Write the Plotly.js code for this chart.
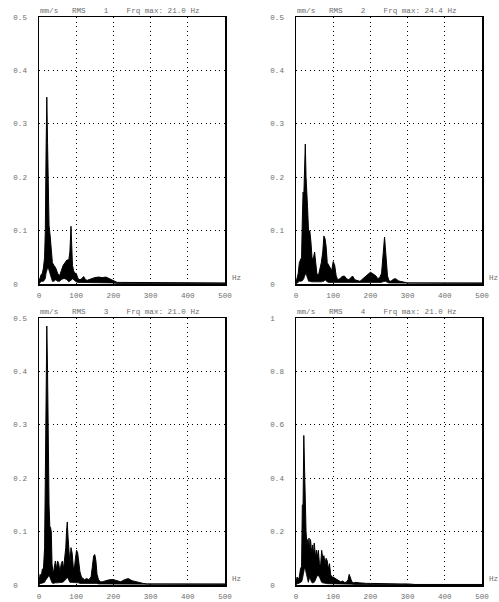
<!DOCTYPE html>
<html>
<head>
<meta charset="utf-8">
<script src="https://cdn.plot.ly/plotly-3.0.1.min.js"></script>
<style>html,body{margin:0;padding:0;background:#fff;}#chart{width:499px;height:602px;}</style>
</head>
<body>
<div id="chart"></div>
<script>
// ---- Data (Hz, mm/s RMS envelopes) ----
const freq1 = [0,3,6,9,12,15,17,19,21,23,25,27,30,33,36,40,45,50,55,60,65,70,75,80,83,86,88,90,93,96,100,105,110,115,120,125,130,140,150,160,170,180,190,200,210,220,240,260,300,350,400,450,500];
const upper1 = [0.005,0.012,0.018,0.02,0.03,0.05,0.1,0.25,0.35,0.265,0.12,0.11,0.09,0.06,0.04,0.035,0.03,0.02,0.015,0.025,0.035,0.04,0.045,0.045,0.06,0.108,0.07,0.035,0.025,0.02,0.02,0.01,0.008,0.01,0.014,0.008,0.007,0.01,0.012,0.013,0.012,0.013,0.01,0.006,0.003,0.003,0.003,0.002,0.002,0.002,0.002,0.002,0.002];
const lower1 = [0,0.002,0.005,0.005,0.005,0.008,0.01,0.02,0.03,0.03,0.03,0.025,0.02,0.01,0.005,0.005,0.008,0.005,0.005,0.008,0.01,0.01,0.008,0.004,0.005,0.006,0.008,0.01,0.008,0.005,0.004,0.003,0.003,0.003,0.003,0.003,0.003,0.003,0.003,0.003,0.003,0.003,0.003,0.002,0.001,0.001,0.001,0.001,0.001,0.001,0.001,0.001,0.001];

const freq2 = [0,3,6,9,12,15,17,19,21,23,25,27,29,31,34,37,40,43,46,50,53,56,60,64,68,72,75,78,81,84,88,92,96,100,104,108,112,118,124,130,136,142,148,152,158,165,172,180,188,195,200,205,210,215,220,225,230,233,236,238,240,243,246,250,255,260,265,270,275,280,290,300,350,400,450,500];
const upper2 = [0.003,0.01,0.02,0.04,0.045,0.05,0.12,0.172,0.165,0.2,0.262,0.2,0.15,0.145,0.095,0.1,0.08,0.05,0.045,0.06,0.04,0.02,0.015,0.025,0.04,0.06,0.09,0.085,0.07,0.04,0.035,0.03,0.025,0.042,0.035,0.015,0.008,0.01,0.014,0.015,0.01,0.008,0.012,0.015,0.008,0.006,0.005,0.01,0.015,0.02,0.022,0.02,0.018,0.015,0.01,0.012,0.02,0.045,0.07,0.088,0.07,0.035,0.015,0.006,0.005,0.008,0.01,0.009,0.006,0.005,0.003,0.002,0.002,0.002,0.002,0.002];
const lower2 = [0,0.002,0.003,0.005,0.005,0.005,0.006,0.008,0.01,0.015,0.02,0.02,0.015,0.01,0.005,0.005,0.004,0.004,0.004,0.004,0.004,0.003,0.003,0.004,0.004,0.005,0.005,0.008,0.005,0.004,0.003,0.003,0.003,0.003,0.003,0.003,0.002,0.002,0.002,0.002,0.002,0.002,0.002,0.002,0.002,0.002,0.002,0.002,0.002,0.003,0.003,0.003,0.003,0.003,0.003,0.003,0.003,0.004,0.005,0.005,0.005,0.004,0.003,0.002,0.002,0.002,0.002,0.002,0.002,0.002,0.001,0.001,0.001,0.001,0.001,0.001];

const freq3 = [0,3,6,9,12,15,17,19,21,23,25,27,29,31,33,35,38,41,44,47,50,53,56,60,63,66,69,72,74,76,78,80,83,86,89,92,95,98,101,104,107,110,114,118,122,128,134,140,144,147,150,153,156,160,165,170,180,190,200,210,220,230,240,250,260,270,280,290,300,350,400,450,500];
const upper3 = [0.005,0.02,0.015,0.03,0.03,0.07,0.2,0.3,0.485,0.4,0.25,0.15,0.11,0.108,0.1,0.04,0.02,0.035,0.045,0.03,0.045,0.04,0.025,0.04,0.045,0.03,0.05,0.07,0.1,0.118,0.09,0.06,0.04,0.07,0.06,0.035,0.03,0.05,0.065,0.06,0.04,0.025,0.015,0.012,0.01,0.012,0.01,0.015,0.04,0.055,0.057,0.045,0.02,0.01,0.006,0.006,0.008,0.01,0.01,0.008,0.006,0.01,0.012,0.008,0.006,0.004,0.003,0.002,0.002,0.002,0.002,0.002,0.002];
const lower3 = [0,0.003,0.003,0.004,0.004,0.005,0.008,0.01,0.012,0.015,0.018,0.018,0.015,0.01,0.005,0.004,0.003,0.004,0.004,0.004,0.004,0.004,0.004,0.005,0.005,0.006,0.008,0.01,0.012,0.015,0.012,0.008,0.005,0.005,0.005,0.005,0.004,0.004,0.004,0.004,0.004,0.003,0.003,0.003,0.003,0.003,0.003,0.003,0.004,0.004,0.004,0.004,0.003,0.002,0.002,0.002,0.002,0.002,0.002,0.002,0.002,0.002,0.002,0.002,0.002,0.001,0.001,0.001,0.001,0.001,0.001,0.001,0.001];

const freq4 = [0,3,6,9,12,15,17,19,21,23,25,27,29,31,33,35,37,39,41,43,45,47,49,51,53,55,57,60,63,66,69,72,75,78,81,84,87,90,93,96,100,105,110,115,120,125,130,135,140,143,146,150,155,160,170,180,190,200,220,240,260,280,300,310,320,350,400,450,500];
const upper4 = [0.01,0.03,0.02,0.03,0.06,0.07,0.3,0.3,0.56,0.38,0.3,0.2,0.16,0.17,0.14,0.176,0.12,0.17,0.14,0.12,0.15,0.11,0.157,0.13,0.1,0.13,0.1,0.13,0.08,0.07,0.13,0.1,0.11,0.08,0.1,0.09,0.06,0.08,0.04,0.03,0.03,0.025,0.02,0.015,0.012,0.015,0.01,0.01,0.02,0.04,0.03,0.012,0.008,0.01,0.008,0.006,0.006,0.006,0.005,0.005,0.005,0.004,0.004,0.003,0.002,0.002,0.002,0.002,0.002];
const lower4 = [0,0.005,0.005,0.008,0.01,0.012,0.02,0.04,0.06,0.065,0.06,0.05,0.03,0.02,0.01,0.02,0.03,0.02,0.01,0.008,0.008,0.008,0.01,0.015,0.02,0.025,0.035,0.035,0.03,0.02,0.01,0.008,0.008,0.006,0.006,0.005,0.005,0.005,0.004,0.004,0.003,0.003,0.003,0.003,0.003,0.003,0.003,0.003,0.003,0.004,0.003,0.003,0.002,0.002,0.002,0.002,0.002,0.002,0.002,0.002,0.002,0.002,0.002,0.001,0.001,0.001,0.001,0.001,0.001];

const channels = ['1','2','3','4'];
const frqMax = ['21.0','24.4','21.0','21.0'];
const xTicks = [0,100,200,300,400,500];
const yTicksA = [0,0.1,0.2,0.3,0.4,0.5];
const yTextA = ['0\u00a0\u00a0','0.1','0.2','0.3','0.4','0.5'];
const yTicksB = [0,0.2,0.4,0.6,0.8,1];
const yTextB = ['0\u00a0\u00a0','0.2','0.4','0.6','0.8','1\u00a0\u00a0'];

// ---- Build ----
const FONT = 'Liberation Mono, Courier New, monospace';
const TXT = '#6e6e6e';
const series = [[freq1,upper1,lower1],[freq2,upper2,lower2],[freq3,upper3,lower3],[freq4,upper4,lower4]];
const traces = [];
series.forEach((s,i)=>{
  const xa = i===0?'x':'x'+(i+1), ya = i===0?'y':'y'+(i+1);
  traces.push({x:s[0],y:s[2],xaxis:xa,yaxis:ya,type:'scatter',mode:'lines',line:{color:'#000',width:0.8},hoverinfo:'skip',showlegend:false});
  traces.push({x:s[0],y:s[1],xaxis:xa,yaxis:ya,type:'scatter',mode:'lines',fill:'tonexty',fillcolor:'#000',line:{color:'#000',width:1},hoverinfo:'skip',showlegend:false});
});

const xdA=[39/499,225/499], xdB=[296/499,482/499];
const ydT=[1-284/602,1-17/602], ydB=[1-585/602,1-318/602];
function xax(dom, anchor){
  return {domain:dom,anchor:anchor,range:[0,500],tickvals:xTicks,ticktext:xTicks.map(String),showgrid:true,
    gridcolor:'#000',gridwidth:1,griddash:'1px,3.5px',zeroline:false,showline:true,mirror:true,linecolor:'#000',linewidth:1.5,
    ticks:'',ticklabelstandoff:3,tickfont:{family:FONT,size:7.6,color:TXT},fixedrange:true};
}
function yax(dom, anchor, max, tv, tt){
  return {domain:dom,anchor:anchor,range:[0,max],tickvals:tv,ticktext:tt,showgrid:true,
    gridcolor:'#000',gridwidth:1,griddash:'1px,3.5px',zeroline:false,showline:true,mirror:true,linecolor:'#000',linewidth:1.5,
    ticks:'',ticklabelstandoff:9,tickfont:{family:FONT,size:7.6,color:TXT},fixedrange:true};
}
const layout = {
  width:499,height:602,margin:{l:0,r:0,t:0,b:0},paper_bgcolor:'#fff',plot_bgcolor:'#fff',showlegend:false,
  xaxis:xax(xdA,'y'), yaxis:yax(ydT,'x',0.5,yTicksA,yTextA),
  xaxis2:xax(xdB,'y2'), yaxis2:yax(ydT,'x2',0.5,yTicksA,yTextA),
  xaxis3:xax(xdA,'y3'), yaxis3:yax(ydB,'x3',0.5,yTicksA,yTextA),
  xaxis4:xax(xdB,'y4'), yaxis4:yax(ydB,'x4',1,yTicksB,yTextB),
  annotations:[]
};
const nb = n => '\u00a0'.repeat(n);
const doms = [[xdA,ydT],[xdB,ydT],[xdA,ydB],[xdB,ydB]];
doms.forEach((d,i)=>{
  layout.annotations.push({xref:'paper',yref:'paper',x:d[0][0],y:d[1][1],xanchor:'left',yanchor:'middle',yshift:6,xshift:-1,
    showarrow:false,text:'mm/s'+nb(3)+'RMS'+nb(4)+channels[i]+nb(4)+'Frq'+nb(1)+'max:'+nb(1)+frqMax[i]+nb(1)+'Hz',
    font:{family:FONT,size:7.6,color:TXT}});
  layout.annotations.push({xref:'paper',yref:'paper',x:d[0][1],y:d[1][0],xanchor:'left',yanchor:'middle',xshift:5,yshift:6,
    showarrow:false,text:'Hz',font:{family:FONT,size:7.6,color:TXT}});
});
Plotly.newPlot('chart',traces,layout,{staticPlot:true,displayModeBar:false});
</script>
</body>
</html>
